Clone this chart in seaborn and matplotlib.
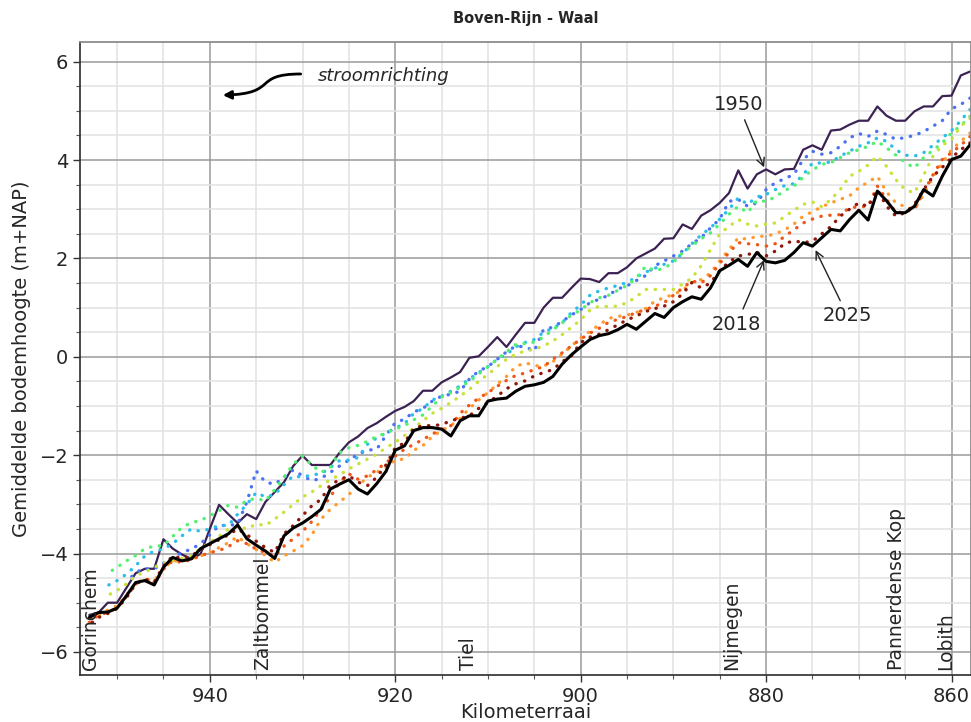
import numpy as np
import pandas as pd
import matplotlib
matplotlib.use("Agg")
import matplotlib.pyplot as plt
import seaborn as sns
from matplotlib.patches import FancyArrowPatch
from matplotlib.path import Path
from matplotlib.ticker import MultipleLocator

nan = np.nan

# --- Kilometerraai (953 .. 858) ---
km = list(range(953, 857, -1))

# --- Gemiddelde bodemhoogte per peiling (m+NAP) ---
bodem_1950 = [
    -5.25, -5.20, -5.00, -5.00, -4.70, -4.40, -4.31, -4.31, -3.71, -3.90,
    -4.02, -4.11, -4.01, -3.50, -3.01, -3.20, -3.38, -3.20, -3.30, -2.95,
    -2.75, -2.55, -2.22, -2.01, -2.20, -2.20, -2.20, -1.95, -1.74, -1.62,
    -1.45, -1.35, -1.22, -1.10, -1.02, -0.90, -0.69, -0.69, -0.52, -0.42,
    -0.31, -0.02, 0.01, 0.20, 0.40, 0.20, 0.45, 0.69, 0.69, 1.00,
    1.20, 1.20, 1.40, 1.59, 1.58, 1.52, 1.70, 1.70, 1.82, 2.00,
    2.10, 2.20, 2.40, 2.41, 2.69, 2.60, 2.87, 2.98, 3.13, 3.33,
    3.79, 3.42, 3.71, 3.81, 3.71, 3.81, 3.82, 4.21, 4.30, 4.21,
    4.60, 4.62, 4.72, 4.80, 4.80, 5.09, 4.90, 4.80, 4.80, 4.99,
    5.09, 5.09, 5.30, 5.31, 5.72, 5.80]

bodem_2018 = [
    -5.30, -5.20, -5.19, -5.11, -4.86, -4.59, -4.55, -4.64, -4.28, -4.08,
    -4.15, -4.11, -3.90, -3.80, -3.70, -3.60, -3.42, -3.70, -3.83, -3.95,
    -4.10, -3.64, -3.48, -3.38, -3.25, -3.10, -2.69, -2.59, -2.50, -2.69,
    -2.79, -2.58, -2.33, -1.90, -1.81, -1.50, -1.44, -1.44, -1.47, -1.61,
    -1.30, -1.20, -1.20, -0.90, -0.86, -0.84, -0.70, -0.60, -0.57, -0.52,
    -0.40, -0.15, 0.04, 0.20, 0.35, 0.43, 0.47, 0.55, 0.66, 0.56,
    0.72, 0.88, 0.80, 1.00, 1.12, 1.22, 1.17, 1.40, 1.75, 1.86,
    1.98, 1.84, 2.12, 1.94, 1.91, 1.96, 2.12, 2.32, 2.25, 2.42,
    2.59, 2.56, 2.79, 2.98, 2.78, 3.37, 3.17, 2.93, 2.93, 3.06,
    3.40, 3.27, 3.67, 4.01, 4.08, 4.31]

peiling_blauw = [
    nan, nan, nan, nan, -4.59, -4.38, -4.31, -4.31, -4.20, -4.08,
    -3.98, -3.91, -3.80, -3.62, -3.43, -3.43, -3.40, -2.95, -2.32, -2.55,
    -2.59, -2.45, -2.30, -2.42, -2.52, -2.47, -2.35, -2.22, -2.10, -1.98,
    -1.90, -1.88, -1.60, -1.34, -1.27, -1.12, -1.05, -0.90, -0.80, -0.76,
    -0.70, -0.45, -0.29, -0.20, -0.05, 0.10, 0.22, 0.20, 0.12, 0.56,
    0.60, 0.72, 0.85, 0.96, 1.10, 1.17, 1.25, 1.38, 1.44, 1.55,
    1.65, 1.85, 1.95, 2.05, 2.15, 2.30, 2.42, 2.62, 2.80, 3.16,
    3.20, 3.06, 3.13, 3.40, 3.54, 3.62, 3.71, 4.01, 4.18, 4.12,
    4.15, 4.28, 4.45, 4.54, 4.48, 4.59, 4.52, 4.42, 4.46, 4.50,
    4.58, 4.69, 4.80, 5.04, 5.13, 5.26]

peiling_cyaan = [
    nan, nan, -4.65, -4.55, -4.42, -4.25, -4.05, -3.95, -3.91, -3.80,
    -3.64, -3.50, -3.55, -3.50, -3.43, -3.43, -3.20, -3.00, -2.76, -2.85,
    -2.80, -2.60, -2.42, -2.45, -2.40, -2.38, -2.25, -2.11, -2.10, -2.05,
    -1.78, -1.65, -1.55, -1.45, -1.36, -1.15, -1.05, -0.88, -0.80, -0.70,
    -0.59, -0.45, -0.32, -0.20, -0.05, 0.05, 0.20, 0.29, 0.35, 0.50,
    0.58, 0.69, 0.90, 1.05, 1.25, 1.34, 1.40, 1.45, 1.51, 1.62,
    1.72, 1.80, 1.88, 1.95, 2.10, 2.30, 2.48, 2.62, 2.80, 3.00,
    3.23, 3.10, 3.25, 3.30, 3.40, 3.48, 3.52, 3.70, 3.94, 3.94,
    3.96, 4.08, 4.18, 4.28, 4.35, 4.45, 4.38, 4.21, 4.10, 4.08,
    4.15, 4.30, 4.45, 4.60, 4.80, 5.03]

peiling_groen = [
    nan, nan, -4.40, -4.28, -4.15, -4.04, -3.90, -3.85, -3.84, -3.65,
    -3.47, -3.37, -3.33, -3.23, -3.13, -3.02, -3.06, -2.92, -2.88, -2.93,
    -2.70, -2.45, -2.18, -2.02, -2.20, -2.35, -2.25, -1.95, -1.85, -1.80,
    -1.72, -1.62, -1.55, -1.47, -1.40, -1.28, -1.18, -1.00, -0.82, -0.73,
    -0.62, -0.50, -0.35, -0.20, -0.05, 0.10, 0.25, 0.27, 0.30, 0.40,
    0.55, 0.69, 0.85, 0.95, 1.10, 1.20, 1.25, 1.35, 1.45, 1.60,
    1.84, 1.75, 1.80, 1.92, 2.12, 2.25, 2.40, 2.52, 2.70, 2.90,
    3.06, 2.93, 3.18, 3.16, 3.25, 3.38, 3.47, 3.65, 3.80, 3.91,
    3.95, 4.05, 4.15, 4.21, 4.28, 4.38, 4.25, 4.10, 3.95, 3.84,
    4.05, 4.20, 4.35, 4.55, 4.70, 4.89]

peiling_geel = [
    nan, nan, -4.85, -4.75, -4.62, -4.45, -4.38, -4.28, -4.20, -4.15,
    -4.10, -4.05, -3.90, -3.77, -3.65, -3.50, -3.45, -3.50, -3.40, -3.43,
    -3.30, -3.16, -3.00, -2.85, -2.75, -2.62, -2.50, -2.40, -2.28, -2.18,
    -2.08, -1.98, -1.85, -1.74, -1.60, -1.45, -1.30, -1.15, -1.05, -0.93,
    -0.80, -0.66, -0.50, -0.36, -0.20, -0.05, 0.05, 0.12, 0.15, 0.22,
    0.32, 0.45, 0.60, 0.75, 0.95, 1.03, 1.02, 1.03, 1.10, 1.22,
    1.37, 1.37, 1.37, 1.37, 1.48, 1.60, 1.85, 2.18, 2.50, 2.65,
    2.79, 2.70, 2.66, 2.70, 2.72, 2.85, 2.98, 3.10, 3.15, 3.05,
    3.20, 3.40, 3.67, 3.77, 3.90, 4.08, 3.87, 3.60, 3.40, 3.33,
    3.70, 4.08, 4.30, 4.42, 4.69, 4.85]

peiling_oranje = [
    -5.35, -5.25, -5.15, -5.06, -4.85, -4.60, -4.52, -4.55, -4.30, -4.15,
    -4.15, -4.10, -4.05, -3.98, -3.88, -3.78, -3.66, -3.80, -3.92, -4.04,
    -4.18, -4.05, -3.95, -3.84, -3.62, -3.30, -3.10, -2.95, -2.80, -2.62,
    -2.45, -2.35, -2.25, -2.10, -2.08, -1.90, -1.80, -1.62, -1.50, -1.40,
    -1.25, -1.05, -0.88, -0.73, -0.56, -0.40, -0.20, -0.12, -0.18, -0.19,
    -0.10, 0.05, 0.22, 0.38, 0.52, 0.65, 0.78, 0.82, 0.85, 0.90,
    0.98, 1.13, 1.20, 1.27, 1.35, 1.51, 1.57, 1.70, 1.95, 2.18,
    2.42, 2.39, 2.45, 2.45, 2.50, 2.58, 2.70, 2.86, 2.95, 3.05,
    3.13, 3.20, 3.27, 3.44, 3.55, 3.67, 3.35, 3.13, 3.05, 3.00,
    3.30, 3.65, 3.94, 4.21, 4.38, 4.55]

peiling_rood = [
    -5.40, -5.25, -5.20, -5.10, -4.88, -4.62, -4.55, -4.60, -4.32, -4.15,
    -4.18, -4.12, -4.05, -3.98, -3.94, -3.86, -3.74, -3.80, -3.91, -3.98,
    -4.05, -3.85, -3.70, -3.55, -3.35, -3.10, -2.85, -2.55, -2.38, -2.49,
    -2.42, -2.30, -2.15, -2.02, -1.88, -1.78, -1.68, -1.57, -1.48, -1.40,
    -1.15, -0.98, -0.84, -0.73, -0.60, -0.48, -0.38, -0.33, -0.26, -0.20,
    -0.05, 0.08, 0.22, 0.36, 0.48, 0.58, 0.70, 0.76, 0.82, 0.90,
    0.96, 1.03, 1.10, 1.25, 1.40, 1.54, 1.50, 1.65, 1.90, 2.12,
    2.32, 2.30, 2.28, 2.25, 2.30, 2.45, 2.58, 2.72, 2.80, 2.86,
    2.88, 2.89, 3.03, 3.05, 3.06, 3.47, 3.20, 2.93, 2.95, 3.00,
    3.35, 3.70, 4.01, 4.15, 4.30, 4.48]

bodem_2025 = [
    -5.45, -5.30, -5.22, -5.12, -4.90, -4.62, -4.52, -4.58, -4.25, -4.05,
    -4.10, -4.05, -3.92, -3.82, -3.72, -3.62, -3.50, -3.62, -3.75, -3.88,
    -3.98, -3.60, -3.43, -3.23, -3.03, -2.90, -2.60, -2.50, -2.42, -2.55,
    -2.62, -2.45, -2.20, -1.85, -1.75, -1.45, -1.40, -1.40, -1.38, -1.30,
    -1.25, -1.20, -1.05, -0.93, -0.80, -0.65, -0.55, -0.49, -0.39, -0.32,
    -0.26, -0.10, 0.02, 0.29, 0.40, 0.46, 0.55, 0.65, 0.75, 0.83,
    0.92, 0.98, 1.03, 1.12, 1.28, 1.51, 1.40, 1.50, 1.75, 1.93,
    2.05, 2.08, 2.12, 2.05, 2.15, 2.30, 2.36, 2.32, 2.35, 2.50,
    2.65, 2.86, 3.00, 3.13, 3.05, 3.40, 3.06, 2.86, 2.93, 3.10,
    3.40, 3.67, 3.85, 4.05, 4.21, 4.35]

# --- Plaatsen langs de rivier ---
plaatsen = ["Gorinchem", "Zaltbommel", "Tiel", "Nijmegen", "Pannerdense Kop", "Lobith"]
plaats_km = [952.9, 934.3, 912.1, 883.7, 865.9, 860.6]

# --- Style ---
sns.set_theme(style="ticks")
plt.rcParams["font.family"] = ["DejaVu Sans"]

fig = plt.figure(figsize=(9.71, 7.22), dpi=100)
ax = fig.add_axes([0.0824, 0.0651, 0.9176, 0.8767])

# --- Lines ---
sns.lineplot(x=km, y=bodem_1950, ax=ax, color="#3b2252", lw=1.6)
dotted = [
    (peiling_blauw, "#4a72f2"),
    (peiling_cyaan, "#2cbde8"),
    (peiling_groen, "#52f06e"),
    (peiling_geel, "#c8e23a"),
    (peiling_oranje, "#ff9a2e"),
    (peiling_rood, "#f0561a"),
    (bodem_2025, "#8e160a"),
]
for vals, col in dotted:
    sns.lineplot(x=km, y=vals, ax=ax, color=col, lw=2.4,
                 linestyle=(0, (0.1, 2.6)), dash_capstyle="round")
sns.lineplot(x=km, y=bodem_2018, ax=ax, color="black", lw=2.2)

ax.set_xlim(954.0, 857.9)
ax.set_ylim(-6.47, 6.40)

# --- Grid and ticks ---
ax.xaxis.set_major_locator(MultipleLocator(20))
ax.xaxis.set_minor_locator(MultipleLocator(5))
ax.yaxis.set_major_locator(MultipleLocator(2))
ax.yaxis.set_minor_locator(MultipleLocator(0.5))
ax.grid(which="major", color="#9a9a9a", lw=1.1)
ax.grid(which="minor", color="#e2e2e2", lw=1.1)
ax.set_axisbelow(True)
ax.tick_params(which="major", labelsize=14, length=5, width=1, color="#333333")
ax.tick_params(which="minor", length=3, width=0.8, color="#555555")
for side in ["left", "bottom"]:
    ax.spines[side].set_color("#333333")
for side in ["top", "right"]:
    ax.spines[side].set_color("#888888")

ax.set_xlabel("Kilometerraai", fontsize=14, labelpad=-2)
ax.set_ylabel("Gemiddelde bodemhoogte (m+NAP)", fontsize=14, labelpad=6)
ax.set_title("Boven-Rijn - Waal", fontsize=10.5, fontweight="bold", pad=14)

# --- Plaatsnamen ---
for naam, k in zip(plaatsen, plaats_km):
    ax.text(k, -6.36, naam, rotation=90, ha="center", va="bottom", fontsize=13.5)

# --- Annotaties ---
pijl = dict(arrowstyle="->", color="#222222", lw=1.0)
ax.annotate("1950", xy=(880.1, 3.80), xytext=(883.0, 5.13), fontsize=14,
            ha="center", va="center", arrowprops=pijl)
ax.annotate("2018", xy=(880.1, 2.02), xytext=(883.2, 0.66), fontsize=14,
            ha="center", va="center", arrowprops=pijl)
ax.annotate("2025", xy=(874.8, 2.22), xytext=(871.2, 0.83), fontsize=14,
            ha="center", va="center", arrowprops=pijl)

# --- Stroomrichting ---
ax.text(928.3, 5.70, "stroomrichting", style="italic", fontsize=13,
        ha="left", va="center")
curve = Path([(930.2, 5.75), (935.5, 5.75), (932.5, 5.35), (938.6, 5.32)],
             [Path.MOVETO, Path.CURVE4, Path.CURVE4, Path.CURVE4])
ax.add_patch(FancyArrowPatch(path=curve, arrowstyle="-|>", mutation_scale=12,
                             lw=2.0, color="black"))

fig.savefig("out.png", dpi=100)
